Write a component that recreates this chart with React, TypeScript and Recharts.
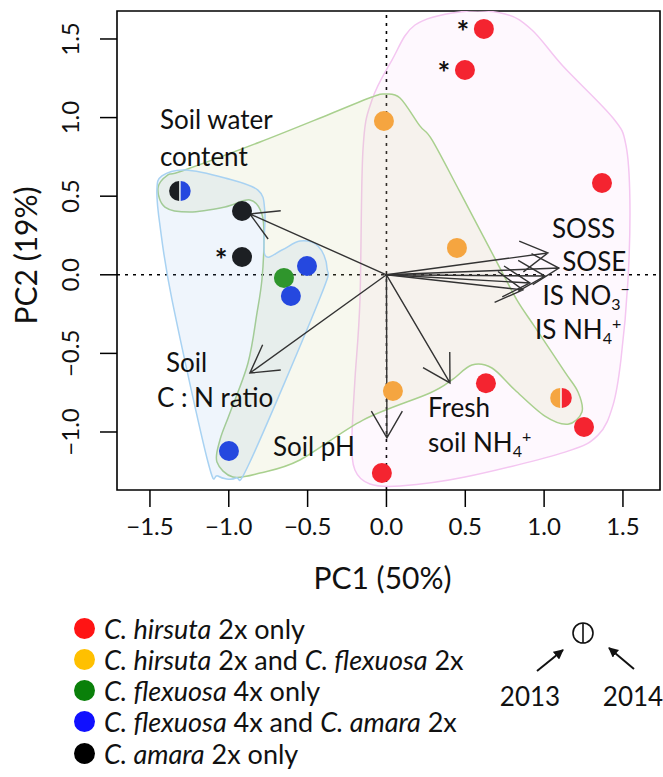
import React from 'react'
import {
  ScatterChart,
  Scatter,
  XAxis,
  YAxis,
  ReferenceLine,
  ReferenceArea,
  Label,
} from 'recharts'

const FONT = 'Lato, "Open Sans", sans-serif'
const INK = '#111'

const X_DOMAIN = [-1.709, 1.735]
const Y_DOMAIN = [-1.369, 1.678]
const xTicks = [-1.5, -1, -0.5, 0, 0.5, 1, 1.5]
const yTicks = [-1, -0.5, 0, 0.5, 1, 1.5]

// site scores (PC1, PC2); star = significant
const hirsutaOnly = [
  { x: 0.618, y: 1.564, star: true },
  { x: 0.498, y: 1.303, star: true },
  { x: 1.367, y: 0.584 },
  { x: 0.631, y: -0.69 },
  { x: 1.253, y: -0.968 },
  { x: -0.029, y: -1.261 },
]
const hirsutaFlexuosa = [
  { x: -0.016, y: 0.978 },
  { x: 0.447, y: 0.171 },
  { x: 0.041, y: -0.739 },
]
const flexuosaOnly = [{ x: -0.65, y: -0.02 }]
const flexuosaAmara = [
  { x: -0.504, y: 0.056 },
  { x: -0.606, y: -0.135 },
  { x: -0.999, y: -1.121 },
]
const amaraOnly = [
  { x: -0.916, y: 0.406 },
  { x: -0.916, y: 0.113, star: true },
]
// sites whose group changed between 2013 (left half) and 2014 (right half)
const splitSites = [
  { x: 1.107, y: -0.783, left: 'orange', right: 'red' },
  { x: -1.31, y: 0.533, left: 'black', right: 'blue' },
]

// environmental loadings (arrow tips)
const loadings = [
  { x: -0.866, y: 0.387 },
  { x: -0.866, y: -0.625 },
  { x: 0.003, y: -1.038 },
  { x: 0.403, y: -0.688 },
  { x: 1.024, y: 0.139 },
  { x: 1.094, y: 0.043 },
  { x: 1.005, y: -0.008 },
  { x: 0.91, y: -0.052 },
  { x: 0.866, y: -0.096 },
]

const annotations = [
  { x: -1.437, y: 0.985, text: 'Soil water' },
  { x: -1.437, y: 0.749, text: 'content' },
  { x: 1.05, y: 0.291, text: 'SOSS' },
  { x: 1.115, y: 0.081, text: 'SOSE' },
  { x: 0.99, y: -0.135, text: 'IS NO', sub: '3', sup: '−' },
  { x: 0.942, y: -0.35, text: 'IS NH', sub: '4', sup: '+' },
  { x: -1.399, y: -0.561, text: 'Soil' },
  { x: -1.456, y: -0.784, text: 'C : N ratio' },
  { x: -0.72, y: -1.096, text: 'Soil pH' },
  { x: 0.263, y: -0.847, text: 'Fresh' },
  { x: 0.263, y: -1.07, text: 'soil NH', sub: '4', sup: '+' },
]

// species-presence hull outlines
const hirsutaHull = [
  { x: 0.466, y: 1.672 }, { x: 0.752, y: 1.659 }, { x: 0.923, y: 1.557 },
  { x: 1.119, y: 1.328 }, { x: 1.437, y: 0.997 }, { x: 1.519, y: 0.825 },
  { x: 1.544, y: 0.476 }, { x: 1.532, y: -0.033 }, { x: 1.487, y: -0.542 },
  { x: 1.437, y: -0.829 }, { x: 1.342, y: -1.02 }, { x: 1.132, y: -1.128 },
  { x: 0.498, y: -1.287 }, { x: 0.086, y: -1.344 }, { x: -0.105, y: -1.331 },
  { x: -0.2, y: -1.242 }, { x: -0.219, y: -1.051 }, { x: -0.2, y: -0.669 },
  { x: -0.168, y: -0.161 }, { x: -0.149, y: 0.793 }, { x: -0.092, y: 1.112 },
  { x: 0.035, y: 1.366 }, { x: 0.181, y: 1.589 },
]
const flexuosaHull = [
  { x: -1.449, y: 0.552 }, { x: -1.386, y: 0.635 }, { x: -1.297, y: 0.66 },
  { x: -0.802, y: 0.845 }, { x: -0.358, y: 1.023 }, { x: -0.092, y: 1.131 },
  { x: -0.01, y: 1.15 }, { x: 0.086, y: 1.125 }, { x: 0.212, y: 0.947 },
  { x: 0.289, y: 0.858 }, { x: 0.466, y: 0.527 }, { x: 0.72, y: 0.043 },
  { x: 0.828, y: -0.161 }, { x: 0.942, y: -0.333 }, { x: 1.132, y: -0.619 },
  { x: 1.215, y: -0.746 }, { x: 1.24, y: -0.873 }, { x: 1.151, y: -0.95 },
  { x: 1.005, y: -0.899 }, { x: 0.815, y: -0.733 }, { x: 0.669, y: -0.593 },
  { x: 0.542, y: -0.574 }, { x: 0.415, y: -0.669 }, { x: 0.276, y: -0.752 },
  { x: -0.149, y: -0.924 }, { x: -0.549, y: -1.178 }, { x: -0.802, y: -1.261 },
  { x: -0.974, y: -1.286 }, { x: -1.075, y: -1.191 }, { x: -1.056, y: -1.051 },
  { x: -0.993, y: -0.879 }, { x: -0.878, y: -0.561 }, { x: -0.821, y: -0.243 },
  { x: -0.79, y: -0.033 }, { x: -0.777, y: 0.221 }, { x: -0.79, y: 0.387 },
  { x: -0.866, y: 0.476 }, { x: -1.024, y: 0.431 }, { x: -1.246, y: 0.399 },
  { x: -1.405, y: 0.431 },
]
const amaraHull = [
  { x: -1.456, y: 0.539 }, { x: -1.424, y: 0.629 }, { x: -1.278, y: 0.667 },
  { x: -1.024, y: 0.616 }, { x: -0.815, y: 0.539 }, { x: -0.771, y: 0.399 },
  { x: -0.771, y: 0.126 }, { x: -0.663, y: 0.158 }, { x: -0.549, y: 0.215 },
  { x: -0.434, y: 0.183 }, { x: -0.377, y: 0.043 }, { x: -0.422, y: -0.148 },
  { x: -0.866, y: -1.191 }, { x: -0.955, y: -1.293 }, { x: -1.069, y: -1.28 },
  { x: -1.132, y: -1.191 }, { x: -1.36, y: -0.16 }, { x: -1.437, y: 0.317 },
]

const legendItems = [
  { color: '#ff1414', parts: [['C. hirsuta', true], [' 2x only', false]] },
  { color: '#ffc000', parts: [['C. hirsuta', true], [' 2x and ', false], ['C. flexuosa', true], [' 2x', false]] },
  { color: '#0a800a', parts: [['C. flexuosa', true], [' 4x only', false]] },
  { color: '#1010ff', parts: [['C. flexuosa', true], [' 4x and ', false], ['C. amara', true], [' 2x', false]] },
  { color: '#000000', parts: [['C. amara', true], [' 2x only', false]] },
]

const COLORS: Record<string, string> = {
  red: '#f42430',
  orange: '#f5a540',
  green: '#2f952c',
  blue: '#2548df',
  black: '#1c1f23',
}

const fmt = (v: number) => v.toFixed(1).replace('-', '−')

const closedSmooth = (pts: { x: number; y: number }[]) => {
  const n = pts.length
  let d = `M${pts[0].x},${pts[0].y}`
  for (let i = 0; i < n; i++) {
    const p0 = pts[(i - 1 + n) % n]
    const p1 = pts[i]
    const p2 = pts[(i + 1) % n]
    const p3 = pts[(i + 2) % n]
    const c1x = p1.x + (p2.x - p0.x) / 6
    const c1y = p1.y + (p2.y - p0.y) / 6
    const c2x = p2.x - (p3.x - p1.x) / 6
    const c2y = p2.y - (p3.y - p1.y) / 6
    d += `C${c1x},${c1y} ${c2x},${c2y} ${p2.x},${p2.y}`
  }
  return d + 'Z'
}

const hullLine = (stroke: string, fill: string, opacity: number) => (p: any) => (
  <path d={closedSmooth(p.points)} stroke={stroke} strokeWidth={1.5} fill={fill} fillOpacity={opacity} />
)

const arrowLine = (p: any) => {
  const [a, b] = p.points
  const ang = Math.atan2(b.y - a.y, b.x - a.x)
  const L = 31
  const w = Math.PI / 6
  const h1x = b.x - L * Math.cos(ang - w)
  const h1y = b.y - L * Math.sin(ang - w)
  const h2x = b.x - L * Math.cos(ang + w)
  const h2y = b.y - L * Math.sin(ang + w)
  return (
    <path
      d={`M${a.x},${a.y}L${b.x},${b.y}M${h1x},${h1y}L${b.x},${b.y}L${h2x},${h2y}`}
      stroke="#333"
      strokeWidth={1.4}
      fill="none"
    />
  )
}

const noDot = () => <g />

const dot = (color: string) => (p: any) => (
  <g>
    <circle cx={p.cx} cy={p.cy} r={10} fill={color} />
    {p.payload.star && (
      <text x={p.cx - 21} y={p.cy + 14} textAnchor="middle" fontSize={30} fontWeight={700} fontFamily={FONT} fill={INK}>
        *
      </text>
    )}
  </g>
)

const splitDot = (p: any) => {
  const { cx, cy, payload } = p
  const r = 10
  return (
    <g>
      <path d={`M${cx - 0.8},${cy - r}A${r},${r} 0 0 0 ${cx - 0.8},${cy + r}Z`} fill={COLORS[payload.left]} />
      <path d={`M${cx + 0.8},${cy - r}A${r},${r} 0 0 1 ${cx + 0.8},${cy + r}Z`} fill={COLORS[payload.right]} />
    </g>
  )
}

const annotationText = (p: any) => {
  const a = p.payload
  return (
    <text x={p.cx} y={p.cy} dy="0.36em" fontSize={26} fontFamily={FONT} fill={INK}>
      {a.text}
      {a.sub && (
        <tspan dy={5} fontSize={16}>
          {a.sub}
        </tspan>
      )}
      {a.sup && (
        <tspan dy={-15} fontSize={16}>
          {a.sup}
        </tspan>
      )}
    </text>
  )
}

const XTick = (p: any) => (
  <text x={p.x} y={p.y + 26} textAnchor="middle" fontSize={24} fontFamily={FONT} fill={INK}>
    {fmt(p.payload.value)}
  </text>
)

const YTick = (p: any) => (
  <text
    x={p.x - 19}
    y={p.y}
    transform={`rotate(-90 ${p.x - 19} ${p.y})`}
    textAnchor="middle"
    fontSize={24}
    fontFamily={FONT}
    fill={INK}
  >
    {fmt(p.payload.value)}
  </text>
)

export default function App() {
  return (
    <div style={{ position: 'absolute', left: 0, top: 0, width: 663, height: 777, background: '#fff', fontFamily: FONT }}>
      <ScatterChart width={663} height={600} margin={{ top: 11, right: 3, bottom: 0, left: 0 }}>
        <XAxis
          type="number"
          dataKey="x"
          domain={X_DOMAIN}
          allowDataOverflow
          ticks={xTicks}
          tick={<XTick />}
          tickSize={17}
          tickLine={{ stroke: '#000', strokeWidth: 1.5 }}
          axisLine={false}
          height={110}
        >
          <Label
            content={(lp: any) => (
              <text
                x={lp.viewBox.x + lp.viewBox.width / 2 - 6}
                y={lp.viewBox.y + 88}
                dy="0.36em"
                textAnchor="middle"
                fontSize={30}
                fontFamily={FONT}
                fill={INK}
              >
                PC1 (50%)
              </text>
            )}
          />
        </XAxis>
        <YAxis
          type="number"
          dataKey="y"
          domain={Y_DOMAIN}
          allowDataOverflow
          ticks={yTicks}
          tick={<YTick />}
          tickSize={17}
          tickLine={{ stroke: '#000', strokeWidth: 1.5 }}
          axisLine={false}
          width={117}
        >
          <Label
            content={(lp: any) => {
              const x = lp.viewBox.x + 26
              const y = lp.viewBox.y + lp.viewBox.height / 2 + 5
              return (
                <text x={x} y={y} dy="0.36em" transform={`rotate(-90 ${x} ${y})`} textAnchor="middle" fontSize={30} fontFamily={FONT} fill={INK}>
                  PC2 (19%)
                </text>
              )
            }}
          />
        </YAxis>

        <Scatter data={hirsutaHull} shape={noDot} line={hullLine('#f4c6f1', '#f0a0ee', 0.08)} isAnimationActive={false} />
        <Scatter data={flexuosaHull} shape={noDot} line={hullLine('#a9d08e', '#cdd296', 0.16)} isAnimationActive={false} />
        <Scatter data={amaraHull} shape={noDot} line={hullLine('#a8d2f2', '#6ca2e4', 0.11)} isAnimationActive={false} />

        <ReferenceLine x={0} stroke="#000" strokeWidth={1.6} strokeDasharray="3 5" />
        <ReferenceLine y={0} stroke="#000" strokeWidth={1.6} strokeDasharray="3 5" />

        {loadings.map((l, i) => (
          <Scatter key={i} data={[{ x: 0, y: 0 }, l]} shape={noDot} line={arrowLine} isAnimationActive={false} />
        ))}

        <Scatter data={hirsutaOnly} shape={dot(COLORS.red)} isAnimationActive={false} />
        <Scatter data={hirsutaFlexuosa} shape={dot(COLORS.orange)} isAnimationActive={false} />
        <Scatter data={flexuosaOnly} shape={dot(COLORS.green)} isAnimationActive={false} />
        <Scatter data={flexuosaAmara} shape={dot(COLORS.blue)} isAnimationActive={false} />
        <Scatter data={amaraOnly} shape={dot(COLORS.black)} isAnimationActive={false} />
        <Scatter data={splitSites} shape={splitDot} isAnimationActive={false} />
        <Scatter data={annotations} shape={annotationText} isAnimationActive={false} />

        <ReferenceArea
          x1={X_DOMAIN[0]}
          x2={X_DOMAIN[1]}
          y1={Y_DOMAIN[0]}
          y2={Y_DOMAIN[1]}
          fill="none"
          stroke="#000"
          strokeWidth={1.6}
        />
      </ScatterChart>

      {legendItems.map((item, i) => (
        <div
          key={i}
          style={{
            position: 'absolute',
            left: 74,
            top: 612 + i * 31.3,
            height: 32,
            display: 'flex',
            alignItems: 'center',
            fontSize: 27,
            color: INK,
            whiteSpace: 'nowrap',
          }}
        >
          <span style={{ width: 21, height: 21, borderRadius: 11, background: item.color, marginRight: 9, flex: 'none' }} />
          <span>
            {item.parts.map(([t, it], j) => (
              <span key={j} style={{ fontStyle: it ? 'italic' : 'normal', whiteSpace: 'pre' }}>
                {t as string}
              </span>
            ))}
          </span>
        </div>
      ))}

      <svg style={{ position: 'absolute', left: 480, top: 613 }} width={183} height={110}>
        <defs>
          <marker id="ah" viewBox="0 0 10 10" refX="9" refY="5" markerWidth="5" markerHeight="5" orient="auto">
            <path d="M0,0L10,5L0,10Z" fill={INK} />
          </marker>
        </defs>
        <circle cx={103} cy={20} r={10} fill="none" stroke={INK} strokeWidth={1.6} />
        <line x1={103} y1={10} x2={103} y2={30} stroke={INK} strokeWidth={1.6} />
        <line x1={57} y1={58} x2={83} y2={37} stroke={INK} strokeWidth={2} markerEnd="url(#ah)" />
        <line x1={154} y1={56} x2={129} y2={35} stroke={INK} strokeWidth={2} markerEnd="url(#ah)" />
        <text x={50} y={84} dy="0.36em" textAnchor="middle" fontSize={26} fontFamily={FONT} fill={INK}>
          2013
        </text>
        <text x={153} y={84} dy="0.36em" textAnchor="middle" fontSize={26} fontFamily={FONT} fill={INK}>
          2014
        </text>
      </svg>
    </div>
  )
}
